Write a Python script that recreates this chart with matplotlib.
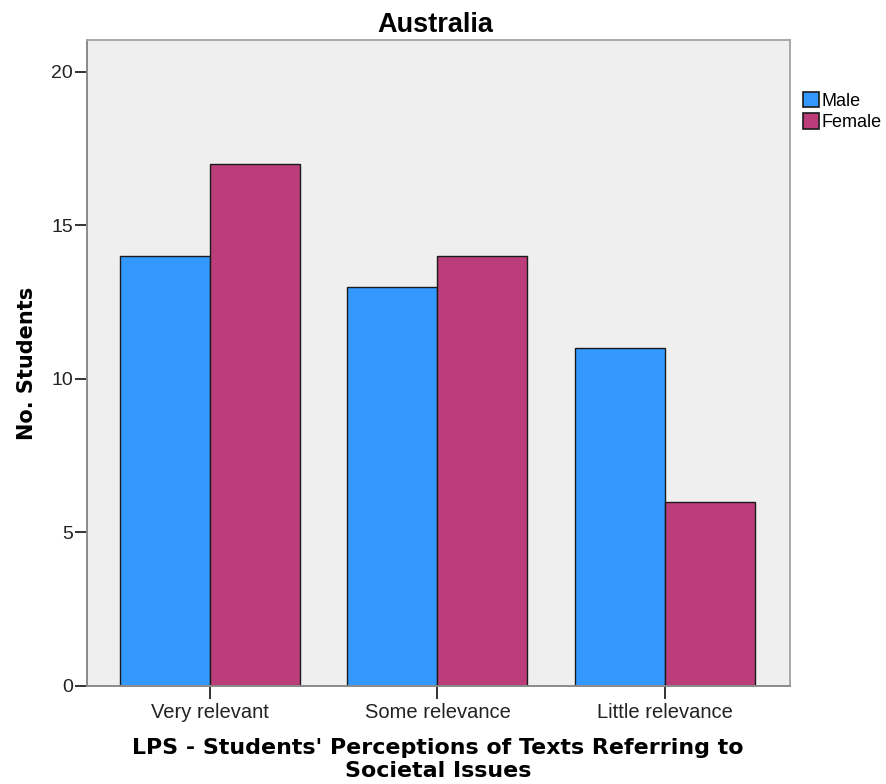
import matplotlib
matplotlib.use('Agg')
import matplotlib.pyplot as plt
import numpy as np

categories = ["Very relevant", "Some relevance", "Little relevance"]
male = [14, 13, 11]
female = [17, 14, 6]
series_names = ["Male", "Female"]
colors = ["#3399FF", "#BB3D7A"]
xlabel_lines = ["LPS - Students' Perceptions of Texts Referring to", "Societal Issues"]

plt.rcParams['font.family'] = ['Liberation Sans', 'DejaVu Sans']

fig = plt.figure(figsize=(8.86, 7.84), dpi=100)
ax = fig.add_axes([0.0982, 0.125, 0.7934, 0.824])
ax.set_facecolor("#EFEFEF")

x = np.arange(len(categories))
w = 0.396
ax.bar(x - w / 2, male, w, color=colors[0], edgecolor="#1a1a1a", linewidth=1.0, label=series_names[0])
ax.bar(x + w / 2, female, w, color=colors[1], edgecolor="#1a1a1a", linewidth=1.0, label=series_names[1])

ax.set_xlim(-0.542, 2.551)
ax.set_ylim(0, 21.04)
ax.set_yticks([0, 5, 10, 15, 20])
ax.set_xticks(x)
ax.set_xticklabels(categories, fontsize=14.5, color="#222222")
ax.tick_params(axis='y', labelsize=14, labelcolor="#222222", length=9, width=1.4, color="#333333", pad=1)
ax.tick_params(axis='x', length=9, width=1.4, color="#333333", pad=3)

for s in ax.spines.values():
    s.set_color("#A8A8A8")
    s.set_linewidth(1.4)
ax.spines['left'].set_color("#8A8A8A")
ax.spines['bottom'].set_color("#8A8A8A")

ax.set_title("Australia", fontsize=19.5, fontweight='bold', pad=6, x=0.495)
ax.set_ylabel("No. Students", fontsize=15, fontweight='bold', family='DejaVu Sans', labelpad=10)

# two-line x label, placed like the SPSS output
fig.text(0.494, 0.0383, xlabel_lines[0], ha='center', va='baseline',
         fontsize=15.9, fontweight='bold', family='DejaVu Sans')
fig.text(0.495, 0.0089, xlabel_lines[1], ha='center', va='baseline',
         fontsize=15.9, fontweight='bold', family='DejaVu Sans')

leg = ax.legend(loc='upper left', bbox_to_anchor=(0.996, 0.945), frameon=False,
                fontsize=13, handlelength=0.85, handleheight=0.95, handletextpad=0.15,
                labelspacing=0.2, borderaxespad=0.5)
for h in leg.legend_handles:
    h.set_linewidth(1.2)

fig.savefig("out.png", dpi=100)
